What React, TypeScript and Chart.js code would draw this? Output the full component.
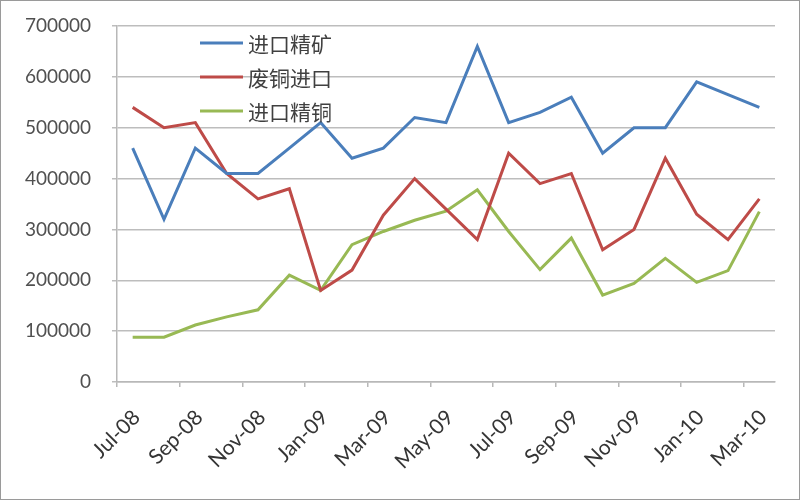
import React, { useEffect, useRef } from "react";
import { Chart, registerables } from "chart.js";

Chart.register(...registerables);

const months = [
  "Jul-08", "Aug-08", "Sep-08", "Oct-08", "Nov-08", "Dec-08",
  "Jan-09", "Feb-09", "Mar-09", "Apr-09", "May-09", "Jun-09",
  "Jul-09", "Aug-09", "Sep-09", "Oct-09", "Nov-09", "Dec-09",
  "Jan-10", "Feb-10", "Mar-10",
];

const seriesNames = ["进口精矿", "废铜进口", "进口精铜"];

const concentrate = [
  460000, 320000, 460000, 410000, 410000, 460000, 510000, 440000, 460000, 520000, 510000,
  660000, 510000, 530000, 560000, 450000, 500000, 500000, 590000, 565000, 540000,
];
const scrap = [
  540000, 500000, 510000, 410000, 360000, 380000, 180000, 220000, 328000, 400000, 340000,
  280000, 450000, 390000, 410000, 260000, 300000, 440000, 330000, 280000, 360000,
];
const refined = [
  88000, 88000, 112000, 128000, 142000, 210000, 180000, 270000, 296000, 318000, 336000,
  378000, 296000, 221000, 283000, 171000, 194000, 243000, 196000, 219000, 335000,
];

const yTicks = { min: 0, max: 700000, step: 100000 };

const colors = ["#4A7EBB", "#BE4B48", "#98B954"];

const innerLegend = {
  id: "innerLegend",
  afterDatasetsDraw(chart: any) {
    const ctx = chart.ctx;
    const { left, top } = chart.chartArea;
    chart.data.datasets.forEach((ds: any, i: number) => {
      const y = top + 17 + i * 34;
      const x0 = left + 83;
      ctx.save();
      ctx.strokeStyle = ds.borderColor;
      ctx.lineWidth = 3;
      ctx.beginPath();
      ctx.moveTo(x0, y);
      ctx.lineTo(x0 + 43, y);
      ctx.stroke();
      ctx.fillStyle = "#404040";
      ctx.font = '21px "Noto Sans CJK SC"';
      ctx.textBaseline = "middle";
      ctx.textAlign = "left";
      ctx.fillText(ds.label, x0 + 48, y + 1);
      ctx.restore();
    });
  },
};

export default function App() {
  const ref = useRef<HTMLCanvasElement | null>(null);

  useEffect(() => {
    if (!ref.current) return;
    const data = [concentrate, scrap, refined];
    const chart = new Chart(ref.current, {
      type: "line",
      data: {
        labels: months,
        datasets: seriesNames.map((name, i) => ({
          label: name,
          data: data[i],
          borderColor: colors[i],
          backgroundColor: colors[i],
          borderWidth: 3,
          pointRadius: 0,
          tension: 0,
          fill: false,
        })),
      },
      options: {
        animation: false,
        responsive: false,
        devicePixelRatio: 1,
        layout: { padding: { top: 25, right: 24, left: 0, bottom: 0 } },
        plugins: {
          legend: { display: false },
          tooltip: { enabled: false },
        },
        scales: {
          x: {
            type: "category",
            offset: true,
            afterFit: (scale: any) => {
              scale.height = 117;
              scale.paddingTop = 0;
              scale.paddingBottom = 0;
            },
            border: { color: "#b8b8b8", width: 1.5 },
            grid: {
              offset: true,
              drawOnChartArea: false,
              drawTicks: true,
              tickLength: 5,
              lineWidth: 1.5,
              color: (c: any) => (c.index % 2 === 0 ? "#b8b8b8" : "rgba(0,0,0,0)"),
            },
            ticks: {
              autoSkip: false,
              maxRotation: 45,
              minRotation: 45,
              padding: 18,
              labelOffset: 4,
              color: "#353535",
              font: { family: "Lato", size: 21 },
              callback: (_v: any, i: number) => (i % 2 === 0 ? months[i] : ""),
            },
          },
          y: {
            min: yTicks.min,
            max: yTicks.max,
            afterFit: (scale: any) => {
              scale.width = 116;
              scale.paddingTop = 0;
              scale.paddingBottom = 0;
            },
            border: { color: "#b8b8b8", width: 1.5 },
            grid: {
              color: "#bdbdbd",
              lineWidth: 1.5,
              drawTicks: true,
              tickLength: 5,
            },
            ticks: {
              stepSize: yTicks.step,
              padding: 21,
              color: "#505050",
              font: { family: "Lato", size: 19 },
              callback: (v: any) => String(v),
            },
          },
        },
      },
      plugins: [innerLegend],
    });
    return () => chart.destroy();
  }, []);

  return (
    <div
      style={{
        position: "fixed",
        left: 0,
        top: 0,
        width: 798,
        height: 498,
        border: "1px solid #9a9a9a",
        background: "#ffffff",
      }}
    >
      <canvas ref={ref} width={798} height={498} style={{ display: "block" }} />
    </div>
  );
}
